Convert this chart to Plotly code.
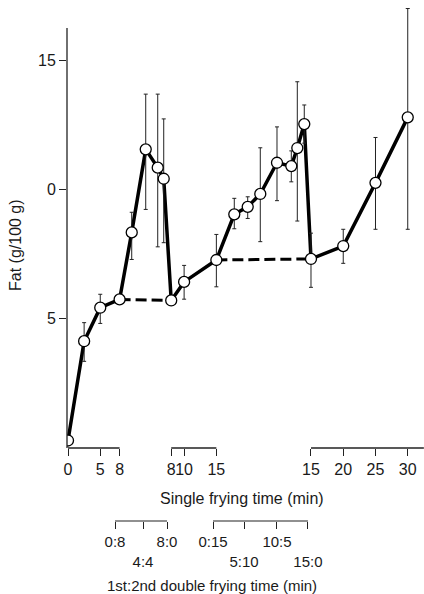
import plotly.graph_objects as go

# ---------------- data ----------------
# single frying, three axis segments
seg_ticks = [[0, 5, 8], [8, 10, 15], [15, 20, 25, 30]]
seg_tick_labels = [["0", "5", "8"], ["8", "10", "15"], ["15", "20", "25", "30"]]
seg_spans = [[0, 8], [8, 15], [15, 32.5]]

single_t = [[0, 2.5, 5, 8], [8, 10, 15], [15, 20, 25, 30]]
single_fat = [[0.25, 4.1, 5.4, 5.72], [5.68, 6.4, 7.25], [7.29, 7.79, 10.24, 12.78]]
single_err_plus = [[0, 0.72, 0.52, 0], [0, 0.64, 0.99], [1.0, 0.65, 1.76, 4.22]]
single_err_minus = [[0, 0.78, 0.61, 0], [0, 0.67, 1.04], [1.1, 0.67, 1.8, 4.34]]

# double frying groups (positions along the broken axis)
double1_pos = [9.88, 12.05, 13.91, 14.84]
double1_fat = [8.32, 11.54, 10.83, 10.40]
double1_err_plus = [0.78, 2.14, 2.85, 2.32]
double1_err_minus = [1.05, 2.33, 3.07, 2.48]

double2_pos = [25.78, 27.86, 29.81, 32.40, 34.62, 35.55, 36.63]
double2_fat = [9.02, 9.31, 9.81, 11.02, 10.89, 11.59, 12.52]
double2_err_plus = [0.62, 0.39, 1.79, 1.39, 0.59, 2.57, 0.74]
double2_err_minus = [0.56, 0.45, 1.85, 1.47, 0.61, 2.83, 0.74]

# 1st:2nd double-frying bracket scales
bracket_ticks = [[7.29, 11.63, 15.35], [22.48, 27.29, 32.40, 37.2]]
bracket_labels = [["0:8", "4:4", "8:0"], ["0:15", "5:10", "10:5", "15:0"]]

y_ticks = [5, 10, 15]
y_tick_labels = ["5", "0", "15"]
y_axis_top = 16.24

# ---------------- layout constants ----------------
OFF = [0, 8, 22.67]          # offset of each axis segment
W, H = 424, 594
ML, MT = 67, 8
PLOT_BOTTOM_PX = 448
paper_h = H - MT
ydom0 = (H - PLOT_BOTTOM_PX) / paper_h
XR = [-0.155, 55.19]
YR = [-0.04, 17.02]
FONT = "Liberation Sans"
TXT = "#1a1a1a"

fig = go.Figure()

pos = [[t + OFF[i] for t in ts] for i, ts in enumerate(single_t)]

# solid single-frying segments
for i in range(3):
    fig.add_trace(go.Scatter(x=pos[i], y=single_fat[i], mode="lines",
                             line=dict(color="black", width=3.5), hoverinfo="skip"))

# double frying connections
g1x = [pos[0][-1]] + double1_pos + [pos[1][0]]
g1y = [single_fat[0][-1]] + double1_fat + [single_fat[1][0]]
g2x = [pos[1][-1]] + double2_pos + [pos[2][0]]
g2y = [single_fat[1][-1]] + double2_fat + [single_fat[2][0]]
for gx, gy in [(g1x, g1y), (g2x, g2y)]:
    fig.add_trace(go.Scatter(x=gx, y=gy, mode="lines",
                             line=dict(color="black", width=3.5), hoverinfo="skip"))

# dashed links
for a, b in [(0, 1), (1, 2)]:
    fig.add_trace(go.Scatter(x=[pos[a][-1], pos[b][0]],
                             y=[single_fat[a][-1], single_fat[b][0]],
                             mode="lines",
                             line=dict(color="black", width=3, dash="11px,5px"),
                             hoverinfo="skip"))

# markers with error bars
mx, my, ep, em = [], [], [], []
for i in range(3):
    mx += pos[i]; my += single_fat[i]; ep += single_err_plus[i]; em += single_err_minus[i]
mx += double1_pos; my += double1_fat; ep += double1_err_plus; em += double1_err_minus
mx += double2_pos; my += double2_fat; ep += double2_err_plus; em += double2_err_minus
fig.add_trace(go.Scatter(
    x=mx, y=my, mode="markers",
    marker=dict(symbol="circle", size=11, color="white",
                line=dict(color="black", width=1.3)),
    error_y=dict(type="data", array=ep, arrayminus=em, symmetric=False,
                 color="#222", thickness=1, width=2),
))

# dummy trace for the bracket axis
fig.add_trace(go.Scatter(x=[XR[0]], y=[YR[0]], xaxis="x2", yaxis="y",
                         mode="markers", marker=dict(opacity=0), hoverinfo="skip"))

# y axis line
fig.add_shape(type="line", xref="x domain", yref="y", x0=0, x1=0,
              y0=YR[0], y1=y_axis_top, line=dict(color="#222", width=1.3))

# x axis segment lines
for i, (s0, s1) in enumerate(seg_spans):
    fig.add_shape(type="line", xref="x", yref="y domain",
                  x0=s0 + OFF[i], x1=s1 + OFF[i], y0=0, y1=0,
                  line=dict(color="#222", width=1.3))

# bracket lines
bracket_y = (H - 521) / paper_h
for ticks in bracket_ticks:
    fig.add_shape(type="line", xref="x", yref="paper",
                  x0=ticks[0], x1=ticks[-1], y0=bracket_y, y1=bracket_y,
                  line=dict(color="#222", width=1.2))

main_tickvals = [t + OFF[i] for i, ts in enumerate(seg_ticks) for t in ts]
main_ticktext = [l for ls in seg_tick_labels for l in ls]

b_vals, b_text = [], []
for ticks, labels in zip(bracket_ticks, bracket_labels):
    for j, (v, l) in enumerate(zip(ticks, labels)):
        b_vals.append(v)
        b_text.append(l if j % 2 == 0 else "<br>" + l)

fig.update_layout(
    width=W, height=H,
    margin=dict(l=ML, r=0, t=MT, b=0, pad=0),
    paper_bgcolor="white", plot_bgcolor="white",
    showlegend=False,
    font=dict(family=FONT, color=TXT, size=16),
    xaxis=dict(range=XR, domain=[0, 1], anchor="y",
               showgrid=False, zeroline=False, showline=False,
               tickmode="array", tickvals=main_tickvals, ticktext=main_ticktext,
               tickangle=0,
               ticks="outside", ticklen=7, tickwidth=1.2, tickcolor="#222",
               tickfont=dict(size=16, family=FONT, color=TXT)),
    xaxis2=dict(range=XR, overlaying="x", anchor="free", position=bracket_y,
                side="bottom", showgrid=False, zeroline=False, showline=False,
                tickmode="array", tickvals=b_vals, ticktext=b_text,
                tickangle=0,
                ticks="outside", ticklen=7, tickwidth=1.2, tickcolor="#222",
                tickfont=dict(size=15, family=FONT, color=TXT)),
    yaxis=dict(range=YR, domain=[ydom0, 1], anchor="x",
               showgrid=False, zeroline=False, showline=False,
               tickmode="array", tickvals=y_ticks, ticktext=y_tick_labels,
               ticks="outside", ticklen=7, tickwidth=1.2, tickcolor="#222",
               tickfont=dict(size=16, family=FONT, color=TXT)),
)

fig.add_annotation(text="Single frying time (min)", xref="paper", yref="paper",
                   x=(241.7 - ML) / (W - ML), y=(H - 498) / paper_h,
                   xanchor="center", yanchor="middle", showarrow=False,
                   font=dict(size=16, family=FONT, color=TXT))
fig.add_annotation(text="1st:2nd double frying time (min)", xref="paper", yref="paper",
                   x=(211.7 - ML) / (W - ML), y=(H - 585) / paper_h,
                   xanchor="center", yanchor="middle", showarrow=False,
                   font=dict(size=15, family=FONT, color=TXT))
fig.add_annotation(text="Fat (g/100 g)", xref="paper", yref="paper",
                   x=(15 - ML) / (W - ML), y=(H - 245) / paper_h,
                   xanchor="center", yanchor="middle", textangle=-90, showarrow=False,
                   font=dict(size=16, family=FONT, color=TXT))

fig.write_html("out.html")
